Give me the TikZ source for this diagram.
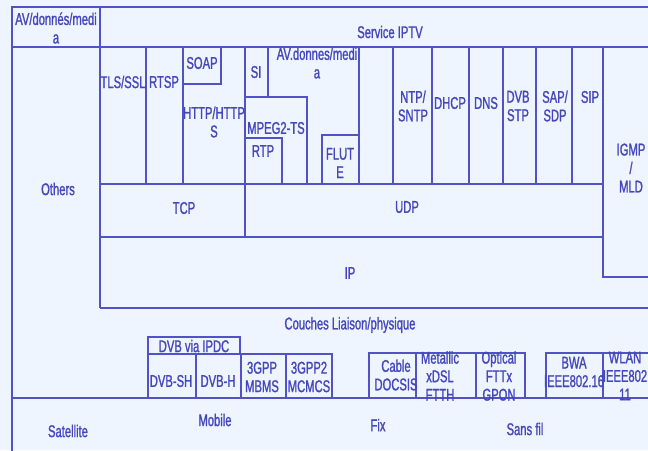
\documentclass[tikz,border=0pt]{standalone}
\usepackage{fontspec}
\setmainfont{Liberation Sans}[FakeStretch=0.66,FakeBold=1.2]
\definecolor{bg}{HTML}{EEF5FE}
\definecolor{ln}{HTML}{5252C8}
\definecolor{tx}{HTML}{4646BC}
\begin{document}
\begin{tikzpicture}[x=1pt,y=-1pt,
  frame/.style={draw=ln,line width=1.8pt},
  lbl/.style={text=tx,font=\fontsize{17}{18.5}\selectfont,inner sep=0pt,align=center}]
\fill[bg] (0,0) rectangle (648,450);
\useasboundingbox (0,0) rectangle (648,450);
% outer
\draw[frame] (650,7) -- (12,7) -- (12,452);
\draw[frame] (12,47) -- (650,47);
\draw[frame] (100,7) -- (100,308);
\draw[frame] (12,398) -- (650,398);
% application row
\foreach \x in {146,183,245,359,393,432,469,503,536,572} \draw[frame] (\x,47) -- (\x,184);
\draw[frame] (183,84) -- (221,84) -- (221,47);
\draw[frame] (268,47) -- (268,97);
\draw[frame] (245,97) -- (307,97) -- (307,184);
\draw[frame] (245,138) -- (282,138) -- (282,184);
\draw[frame] (322,184) -- (322,135) -- (359,135);
\draw[frame] (603,47) -- (603,277) -- (650,277);
% transport / network
\draw[frame] (100,184) -- (603,184);
\draw[frame] (245,184) -- (245,237);
\draw[frame] (100,237) -- (603,237);
\draw[frame] (100,308) -- (650,308);
% link layer boxes
\draw[frame] (148,354) -- (148,337) -- (240,337) -- (240,354);
\draw[frame] (148,398) -- (148,354) -- (332,354) -- (332,398);
\foreach \x in {196,241,286} \draw[frame] (\x,354) -- (\x,398);
\draw[frame] (369,398) -- (369,353) -- (525,353) -- (525,398);
\foreach \x in {416,476} \draw[frame] (\x,353) -- (\x,398);
\draw[frame] (546,398) -- (546,353) -- (650,353);
\draw[frame] (603,353) -- (603,398);
% labels
\node[lbl] (av) at (56,28) {AV/donnés/medi\\a};
\node[lbl] (iptv) at (390,32) {Service IPTV};
\node[lbl] (others) at (58,189) {Others};
\node[lbl] (tls) at (123,82) {TLS/SSL};
\node[lbl] (rtsp) at (164,82) {RTSP};
\node[lbl] (soap) at (202,63) {SOAP};
\node[lbl] (http) at (214,122) {HTTP/HTTP\\S};
\node[lbl] (si) at (256,72) {SI};
\node[lbl] (avd) at (317,63) {AV.donnes/medi\\a};
\node[lbl] (mpeg) at (276,128) {MPEG2-TS};
\node[lbl] (rtp) at (263,151) {RTP};
\node[lbl] (flute) at (340,163) {FLUT\\E};
\node[lbl] (ntp) at (413,106) {NTP/\\SNTP};
\node[lbl] (dhcp) at (450,103) {DHCP};
\node[lbl] (dns) at (486,103) {DNS};
\node[lbl] (dvbstp) at (518,106) {DVB\\STP};
\node[lbl] (sap) at (555,106) {SAP/\\SDP};
\node[lbl] (sip) at (590,97) {SIP};
\node[lbl] (igmp) at (631,168) {IGMP\\/\\MLD};
\node[lbl] (tcp) at (184,208) {TCP};
\node[lbl] (udp) at (407,207) {UDP};
\node[lbl] (ip) at (350,273) {IP};
\node[lbl] (couches) at (350,325) {Couches Liaison/physique};
\node[lbl] (ipdc) at (194,346) {DVB via IPDC};
\node[lbl] (dvbsh) at (171,381) {DVB-SH};
\node[lbl] (dvbh) at (218,381) {DVB-H};
\node[lbl] (mbms) at (262,377) {3GPP\\MBMS};
\node[lbl] (mcmcs) at (309,377) {3GPP2\\MCMCS};
\node[lbl] (cable) at (396,375) {Cable\\DOCSIS};
\node[lbl] (xdsl) at (440,376) {Metallic\\xDSL\\FTTH};
\node[lbl] (fttx) at (499,376) {Optical\\FTTx\\GPON};
\node[lbl] (bwa) at (574,372) {BWA\\IEEE802.16};
\node[lbl] (wlan) at (625,376) {WLAN\\IEEE802\\11};
\node[lbl] (sat) at (68,431) {Satellite};
\node[lbl] (mob) at (215,420) {Mobile};
\node[lbl] (fix) at (378,425) {Fix};
\node[lbl] (sf) at (525,429) {Sans fil};
\end{tikzpicture}
\end{document}
